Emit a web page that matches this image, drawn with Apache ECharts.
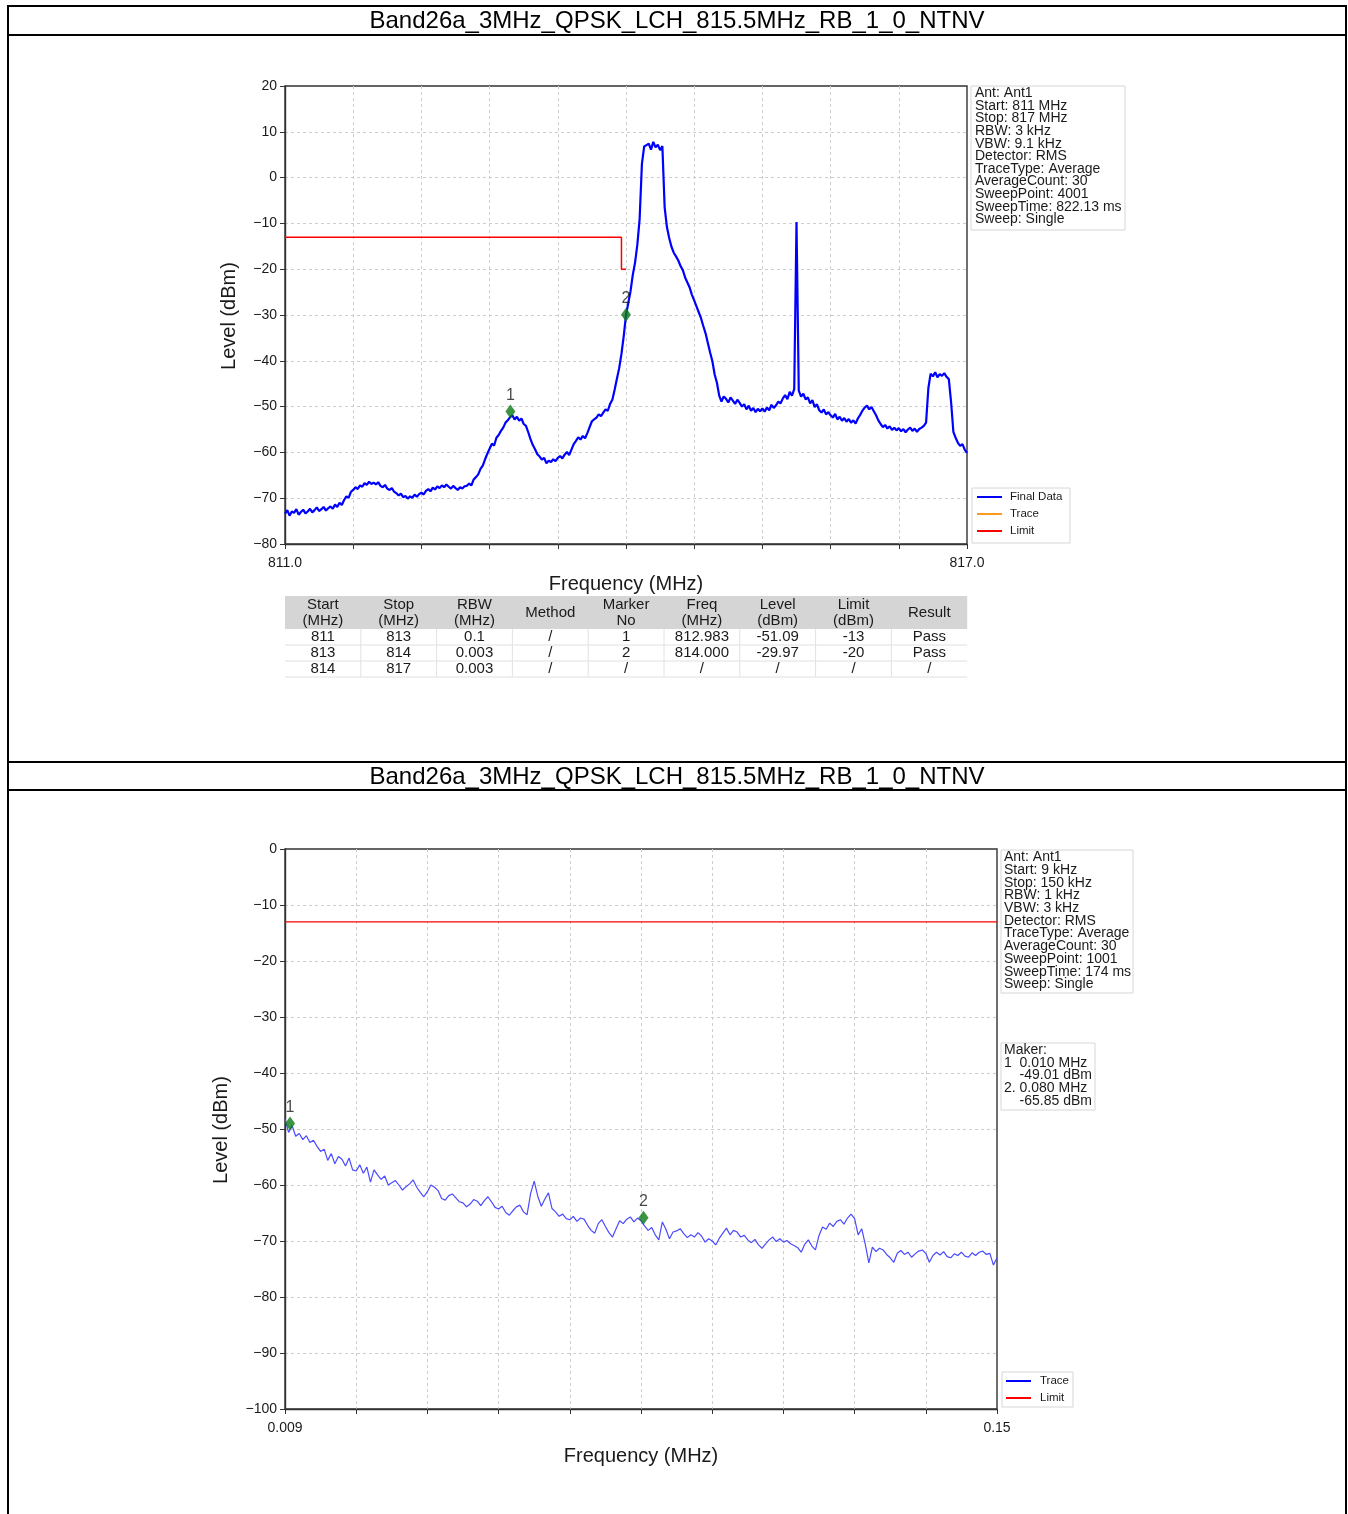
<!DOCTYPE html>
<html>
<head>
<meta charset="utf-8">
<title>Band26a spectrum report</title>
<script src="https://cdn.jsdelivr.net/npm/echarts@6.0.0/dist/echarts.min.js"></script>
<style>
  html, body { margin: 0; padding: 0; background: #ffffff; }
  #chart { width: 1348px; height: 1514px; }
</style>
</head>
<body>
<div id="chart"></div>
<script>
// ---------- report text ----------
const reportTitle = 'Band26a_3MHz_QPSK_LCH_815.5MHz_RB_1_0_NTNV';

// ---------- upper plot: 811 - 817 MHz sweep ----------
const topStartMHz = 811.0;
const topStepMHz = 0.02;
const topLevels = [
  -73.4, -72.6, -73.8, -72.9, -73.2, -72.4, -73.6, -73.0, -72.5, -73.3,
  -72.9, -72.3, -73.1, -72.6, -72.0, -72.8, -72.4, -71.9, -72.7, -72.2,
  -71.8, -72.3, -71.4, -71.9, -71.0, -71.5, -70.4, -69.6, -69.9, -68.6,
  -68.2, -67.6, -68.0, -67.2, -67.5, -66.7, -67.1, -66.4, -66.9, -66.6,
  -67.0, -66.5, -67.3, -67.6, -67.1, -67.9, -68.2, -67.8, -68.6, -68.9,
  -69.4, -69.0, -69.8, -69.5, -70.1, -69.6, -69.9, -69.2, -69.7, -69.1,
  -68.8, -69.2, -68.4, -68.0, -68.5, -67.7, -68.1, -67.4, -67.8, -67.2,
  -67.6, -67.0, -67.5, -67.9, -67.3, -67.8, -68.2, -67.6, -67.9, -67.4,
  -67.3, -66.8, -67.2, -65.9, -65.4, -64.8, -63.6, -62.9, -61.5, -60.3,
  -59.2, -58.1, -58.5, -56.8, -56.2, -55.3, -54.6, -53.5, -53.0, -52.3,
  -51.9, -52.8, -52.2, -53.1, -52.6, -53.8, -54.2, -55.6, -57.1, -58.4,
  -59.3, -60.4, -60.9, -61.6, -61.2, -62.4, -61.8, -62.1, -61.5, -61.9,
  -61.2, -60.8, -61.3, -60.5, -59.9, -60.6, -59.4, -58.2, -57.5, -56.7,
  -57.2, -56.4, -56.9, -55.8, -54.5, -53.2, -52.8, -52.4, -51.7, -52.1,
  -51.3, -50.6, -50.9, -49.4, -48.5, -46.3, -43.9, -41.6, -38.5, -34.6,
  -30.0, -27.4, -24.8, -21.2, -18.5, -14.6, -9.0, 3.0, 6.8, 7.1,
  7.4, 6.1, 7.8, 6.6, 7.2, 6.0, 6.9, -6.5, -10.8, -13.2,
  -15.1, -16.4, -17.2, -18.1, -19.3, -20.2, -21.8, -22.9, -24.0, -25.6,
  -26.8, -28.1, -29.4, -30.7, -32.4, -34.0, -36.1, -38.2, -40.1, -43.0,
  -44.8, -47.6, -48.9, -47.8, -48.3, -49.1, -48.0, -48.7, -49.4, -48.5,
  -49.2, -50.0, -49.5, -50.6, -49.8, -50.9, -50.3, -51.2, -50.5, -51.0,
  -50.4, -51.1, -50.2, -50.8, -49.6, -50.3, -49.7, -48.9, -49.3, -48.2,
  -47.5, -48.4, -46.8, -47.6, -46.2, -9.7, -46.5, -47.8, -47.2, -48.4,
  -48.0, -49.3, -48.6, -50.1, -49.5, -50.8, -51.3, -50.6, -51.7, -51.2,
  -51.9, -52.4, -51.6, -52.8, -52.2, -53.1, -52.5, -53.3, -52.7, -53.5,
  -53.0, -53.7, -52.6, -51.8, -50.9, -50.2, -49.8, -50.6, -50.1, -51.0,
  -51.9, -53.0, -53.8, -54.5, -54.0, -54.8, -54.3, -55.1, -54.6, -55.2,
  -54.7, -55.4, -54.9, -55.6, -55.0, -54.6, -55.3, -54.8, -55.5, -54.9,
  -54.6, -54.2, -53.5, -46.0, -42.8, -43.4, -42.5, -43.6, -42.9, -43.3,
  -42.7, -43.5, -44.0, -49.0, -55.5, -56.8, -57.9, -58.6, -58.2, -59.4, -60.1
];
const topLimitFreq  = [811.0, 813.96, 813.96, 814.0];
const topLimitLevel = [-13, -13, -20, -20];
const topMarkerFreq  = [812.983, 814.000];
const topMarkerLevel = [-51.09, -29.97];
const topInfoLines = [
  'Ant: Ant1', 'Start: 811 MHz', 'Stop: 817 MHz', 'RBW: 3 kHz', 'VBW: 9.1 kHz',
  'Detector: RMS', 'TraceType: Average', 'AverageCount: 30', 'SweepPoint: 4001',
  'SweepTime: 822.13 ms', 'Sweep: Single'
];
const topLegendNames = ['Final Data', 'Trace', 'Limit'];
const topLegendColors = ['#0000ff', '#ff9a1a', '#ff0000'];
const topXTickLabels = ['811.0', '817.0'];

// result table under the upper plot
const tableHeader = ['Start\n(MHz)', 'Stop\n(MHz)', 'RBW\n(MHz)', 'Method', 'Marker\nNo',
                     'Freq\n(MHz)', 'Level\n(dBm)', 'Limit\n(dBm)', 'Result'];
const tableRows = [
  ['811', '813', '0.1',   '/', '1', '812.983', '-51.09', '-13', 'Pass'],
  ['813', '814', '0.003', '/', '2', '814.000', '-29.97', '-20', 'Pass'],
  ['814', '817', '0.003', '/', '/', '/',       '/',      '/',   '/']
];

// ---------- lower plot: 9 kHz - 150 kHz sweep ----------
const lowStartMHz = 0.009;
const lowStepMHz = 0.000705;
const lowLevels = [
  -48.2, -50.6, -49.4, -51.3, -50.8, -51.9, -51.2, -52.4, -52.0, -53.1,
  -54.0, -53.6, -55.6, -54.4, -56.2, -54.9, -55.4, -56.6, -55.2, -57.3,
  -57.5, -56.4, -57.9, -56.8, -59.5, -57.3, -58.2, -59.0, -58.4, -60.0,
  -59.6, -59.2, -60.0, -60.9, -60.3, -59.8, -59.1, -60.4, -61.3, -62.1,
  -61.2, -60.0, -60.4, -61.0, -62.4, -62.7, -61.9, -61.6, -62.3, -63.0,
  -63.2, -63.9, -63.4, -62.6, -62.9, -63.7, -62.8, -62.1, -63.0, -64.0,
  -64.3, -63.8, -64.9, -65.4, -64.6, -63.9, -63.6, -64.8, -65.3, -61.5,
  -59.3, -62.0, -63.8, -62.5, -61.4, -64.2, -64.8, -65.6, -65.2, -66.0,
  -66.2, -65.6, -66.5, -65.9, -66.1, -67.2, -68.1, -68.6, -66.9, -66.2,
  -67.4, -68.5, -69.3, -67.8, -66.4, -66.9, -66.1, -65.7, -66.6, -65.9,
  -66.4, -67.3, -68.1, -67.6, -68.9, -69.8, -66.6, -67.9, -69.6, -68.4,
  -68.2, -67.8, -68.7, -69.4, -68.9, -69.3, -68.5, -69.1, -70.2, -69.6,
  -70.0, -70.7, -69.5, -68.6, -67.7, -68.9, -68.1, -68.4, -69.3, -69.0,
  -69.8, -70.3, -69.7, -70.7, -71.3, -70.5, -69.8, -69.3, -70.1, -69.6,
  -70.2, -69.9, -70.5, -70.8, -71.2, -72.0, -70.6, -69.8, -70.9, -71.6,
  -69.0, -67.5, -67.9, -66.8, -67.4, -66.5, -66.2, -67.0, -65.9, -65.2,
  -66.0, -68.9, -67.8, -70.6, -73.9, -71.1, -71.9, -71.3, -71.6, -72.4,
  -73.0, -73.8, -72.2, -71.7, -72.4, -72.0, -72.9, -72.3, -71.8, -71.6,
  -72.2, -73.8, -72.6, -72.0, -72.5, -71.9, -72.8, -73.0, -72.3, -72.6,
  -72.0, -72.7, -72.9, -72.1, -72.6, -72.0, -71.8, -72.4, -72.2, -74.3, -73.0
];
const lowLimitFreq  = [0.009, 0.15];
const lowLimitLevel = [-13, -13];
const lowMarkerFreq  = [0.010, 0.080];
const lowMarkerLevel = [-49.01, -65.85];
const lowInfoLines = [
  'Ant: Ant1', 'Start: 9 kHz', 'Stop: 150 kHz', 'RBW: 1 kHz', 'VBW: 3 kHz',
  'Detector: RMS', 'TraceType: Average', 'AverageCount: 30', 'SweepPoint: 1001',
  'SweepTime: 174 ms', 'Sweep: Single'
];
const lowMakerLines = ['Maker:', '1  0.010 MHz', '    -49.01 dBm', '2. 0.080 MHz', '    -65.85 dBm'];
const lowLegendNames = ['Trace', 'Limit'];
const lowLegendColors = ['#0000ff', '#ff0000'];
const lowXTickLabels = ['0.009', '0.15'];

// ---------- helpers ----------
const FONT = '"Liberation Sans", Arial, sans-serif';
const pairs = (xs, ys) => xs.map((x, i) => [x, ys[i]]);
const sweep = (start, step, levels) => levels.map((v, i) => [+(start + i * step).toFixed(6), v]);
const yFmt = v => (v < 0 ? '\u2212' + (-v) : String(v));

function hLine(x1, x2, y, w, c) {
  return { type: 'line', shape: { x1, y1: y, x2, y2: y }, style: { stroke: c || '#000', lineWidth: w || 1 }, silent: true };
}
function vLine(x, y1, y2, w, c) {
  return { type: 'line', shape: { x1: x, y1, x2: x, y2 }, style: { stroke: c || '#000', lineWidth: w || 1 }, silent: true };
}
function txt(x, y, text, size, opts) {
  opts = opts || {};
  return {
    type: 'text', x, y, rotation: opts.rotation || 0, silent: true,
    style: {
      text, fill: opts.fill || '#1a1a1a',
      font: (opts.weight || 'normal') + ' ' + size + 'px ' + FONT,
      textAlign: opts.align || 'center', textVerticalAlign: opts.valign || 'middle',
      lineHeight: opts.lineHeight
    }
  };
}
function box(x, y, w, h, stroke) {
  return { type: 'rect', shape: { x, y, width: w, height: h }, style: { fill: '#ffffff', stroke: stroke || '#d6d6d6', lineWidth: 1 }, silent: true };
}
function legendBlock(x, y, w, h, names, colors, lineX1, lineX2, textX, rowY0, rowGap) {
  const els = [box(x, y, w, h)];
  names.forEach((n, i) => {
    const ry = rowY0 + i * rowGap;
    els.push(hLine(lineX1, lineX2, ry, 2, colors[i]));
    els.push(txt(textX, ry, n, 11.5, { align: 'left' }));
  });
  return els;
}

// ---------- static page elements ----------
const graphics = [];
// page frame and header rows
graphics.push(hLine(7, 1347, 6, 2));
graphics.push(hLine(7, 1347, 35, 2));
graphics.push(hLine(7, 1347, 762, 2));
graphics.push(hLine(7, 1347, 790, 2));
graphics.push(vLine(8, 5, 1514, 2));
graphics.push(vLine(1346, 5, 1514, 2));
graphics.push(txt(677, 21, reportTitle, 24, { fill: '#000' }));
graphics.push(txt(677, 777, reportTitle, 24, { fill: '#000' }));

// axis titles
graphics.push(txt(229, 316, 'Level (dBm)', 20, { rotation: Math.PI / 2 }));
graphics.push(txt(626, 584, 'Frequency (MHz)', 20));
graphics.push(txt(221, 1130, 'Level (dBm)', 20, { rotation: Math.PI / 2 }));
graphics.push(txt(641, 1456, 'Frequency (MHz)', 20));

// instrument settings boxes
graphics.push(box(971, 86, 154, 144));
graphics.push(txt(975, 87, topInfoLines.join('\n'), 14, { align: 'left', valign: 'top', lineHeight: 12.6 }));
graphics.push(box(1001, 850, 132, 143));
graphics.push(txt(1004, 851, lowInfoLines.join('\n'), 14, { align: 'left', valign: 'top', lineHeight: 12.7 }));
graphics.push(box(1001, 1043, 94, 67));
graphics.push(txt(1004, 1044, lowMakerLines.join('\n'), 14, { align: 'left', valign: 'top', lineHeight: 12.6 }));

// legends
graphics.push(...legendBlock(972, 488, 98, 55, topLegendNames, topLegendColors, 977, 1002, 1010, 497, 17));
graphics.push(...legendBlock(1002, 1372, 71, 35, lowLegendNames, lowLegendColors, 1006, 1031, 1040, 1381, 17));

// result table
const tX0 = 285, tColW = 75.8, tHeadTop = 596, tHeadBot = 629, tRowH = 16;
graphics.push({ type: 'rect', shape: { x: tX0, y: tHeadTop, width: tColW * 9, height: tHeadBot - tHeadTop }, style: { fill: '#d5d5d5' }, silent: true });
tableHeader.forEach((h, c) => {
  graphics.push(txt(tX0 + tColW * (c + 0.5), (tHeadTop + tHeadBot) / 2 + 0.5, h, 15, { lineHeight: 16 }));
});
tableRows.forEach((row, r) => {
  const cy = tHeadBot + tRowH * (r + 0.5);
  row.forEach((v, c) => graphics.push(txt(tX0 + tColW * (c + 0.5), cy, v, 15)));
  graphics.push(hLine(tX0, tX0 + tColW * 9, tHeadBot + tRowH * (r + 1), 1, '#e0e0e0'));
});
for (let c = 1; c < 9; c++) {
  graphics.push(vLine(tX0 + tColW * c, tHeadBot, tHeadBot + tRowH * 3, 1, '#e2e2e2'));
}

// ---------- axes ----------
const gridLine = { show: true, showMinLine: false, showMaxLine: false, lineStyle: { color: '#cdcdcd', type: [3, 3], width: 1 } };
const axisLineStyle = { show: true, lineStyle: { color: '#333', width: 1.4 } };
const tickStyle = { show: true, length: 5, inside: false, lineStyle: { color: '#333', width: 1 } };

function tickXAxis(gridIndex, labels) {
  return {
    gridIndex, type: 'value', position: 'bottom', min: 0, max: 10, interval: 1,
    axisLine: axisLineStyle, axisTick: tickStyle, splitLine: gridLine,
    axisLabel: {
      showMinLabel: true, showMaxLabel: true, margin: 12,
      fontSize: 14, color: '#1a1a1a', fontFamily: FONT,
      formatter: v => (v === 0 ? labels[0] : (v === 10 ? labels[1] : ''))
    }
  };
}
function dataXAxis(gridIndex, min, max) {
  return { gridIndex, type: 'value', position: 'bottom', min, max, show: false, splitLine: { show: false } };
}
function levelYAxis(gridIndex, min, max) {
  return {
    gridIndex, type: 'value', min, max, interval: 10,
    axisLine: axisLineStyle, axisTick: tickStyle, splitLine: gridLine,
    axisLabel: { fontSize: 14, color: '#1a1a1a', fontFamily: FONT, margin: 8, formatter: yFmt }
  };
}
function markerSeries(xAxisIndex, yAxisIndex, xs, ys) {
  return {
    type: 'scatter', xAxisIndex, yAxisIndex, z: 5,
    symbol: 'diamond', symbolSize: [10, 14],
    itemStyle: { color: '#0a7a14' },
    label: {
      show: true, position: 'top', distance: 1, fontSize: 16, color: '#1a1a1a', fontFamily: FONT,
      formatter: p => String(p.dataIndex + 1)
    },
    data: pairs(xs, ys)
  };
}

const option = {
  backgroundColor: '#ffffff',
  animation: false,
  textStyle: { fontFamily: FONT },
  grid: [
    { left: 285, top: 86, width: 682, height: 458, show: true, borderColor: '#333', borderWidth: 1.4, backgroundColor: 'transparent' },
    { left: 285, top: 849, width: 712, height: 560, show: true, borderColor: '#333', borderWidth: 1.4, backgroundColor: 'transparent' }
  ],
  xAxis: [
    dataXAxis(0, 811, 817),
    tickXAxis(0, topXTickLabels),
    dataXAxis(1, 0.009, 0.15),
    tickXAxis(1, lowXTickLabels)
  ],
  yAxis: [
    levelYAxis(0, -80, 20),
    levelYAxis(1, -100, 0)
  ],
  series: [
    {
      name: 'Final Data', type: 'line', xAxisIndex: 0, yAxisIndex: 0, z: 3,
      showSymbol: false, symbol: 'none',
      lineStyle: { color: '#0000ff', width: 2.2 },
      data: sweep(topStartMHz, topStepMHz, topLevels)
    },
    {
      name: 'Limit', type: 'line', xAxisIndex: 0, yAxisIndex: 0, z: 2,
      showSymbol: false, symbol: 'none',
      lineStyle: { color: '#ff0000', width: 1.5 },
      data: pairs(topLimitFreq, topLimitLevel)
    },
    markerSeries(0, 0, topMarkerFreq, topMarkerLevel),
    {
      name: 'Trace', type: 'line', xAxisIndex: 2, yAxisIndex: 1, z: 3,
      showSymbol: false, symbol: 'none',
      lineStyle: { color: '#4a4aff', width: 1.2 },
      data: sweep(lowStartMHz, lowStepMHz, lowLevels)
    },
    {
      name: 'Limit (low)', type: 'line', xAxisIndex: 2, yAxisIndex: 1, z: 2,
      showSymbol: false, symbol: 'none',
      lineStyle: { color: '#ff0000', width: 1.2 },
      data: pairs(lowLimitFreq, lowLimitLevel)
    },
    markerSeries(2, 1, lowMarkerFreq, lowMarkerLevel)
  ],
  graphic: { elements: graphics }
};

const chart = echarts.init(document.getElementById('chart'), null, { renderer: 'canvas' });
chart.setOption(option);
</script>
</body>
</html>
